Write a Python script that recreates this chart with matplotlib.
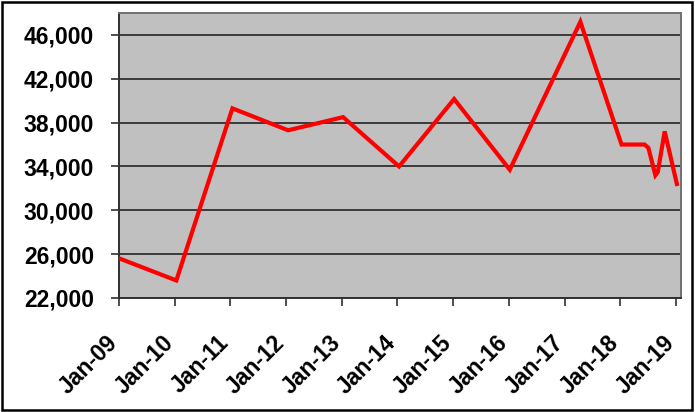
import matplotlib
matplotlib.use("Agg")
import matplotlib.pyplot as plt
import matplotlib.transforms as mtransforms
import numpy as np
import pandas as pd
from matplotlib.patches import Rectangle

dates = ["2009-01-05", "2010-01-12", "2011-01-15", "2012-01-15", "2013-01-10",
         "2014-01-12", "2015-01-08", "2016-01-08", "2017-04-15", "2018-01-10",
         "2018-06-10", "2018-07-05", "2018-08-20", "2018-09-05", "2018-10-20",
         "2019-01-08"]
values = [25600, 23600, 39300, 37300, 38500,
          34000, 40150, 33700, 47200, 36000,
          36000, 35700, 33200, 33500, 37200,
          32400]
yticks = [22000, 26000, 30000, 34000, 38000, 42000, 46000]
xtick_years = list(range(2009, 2020))

x = pd.to_datetime(dates)

fig = plt.figure(figsize=(6.95, 4.12), dpi=100)
ax = fig.add_axes([119/695, 1-298/412, (681-119)/695, (298-13)/412])
ax.set_facecolor("#C0C0C0")

ax.plot(x, values, color="#FF0000", lw=3.0, solid_joinstyle="miter", zorder=3)

ax.set_ylim(22000, 48000)
ax.set_yticks(yticks)
ax.set_yticklabels([f"{v:,}" for v in yticks])
ax.yaxis.grid(True, color="#3a3a3a", lw=1.4)
ax.set_axisbelow(True)

ax.set_xlim(pd.Timestamp("2009-01-01"), pd.Timestamp("2019-02-04"))
xt = [pd.Timestamp(f"{y}-01-01") for y in xtick_years]
ax.set_xticks(xt)
ax.set_xticklabels([f"Jan-{str(y)[2:]}" for y in xtick_years])

ax.tick_params(axis="both", direction="out", length=6, width=1.3, color="#404040")
ax.tick_params(axis="x", pad=8)
ax.tick_params(axis="y", pad=12)

offset = mtransforms.ScaledTranslation(-13/100, -14/100, fig.dpi_scale_trans)
for lab in ax.get_xticklabels():
    lab.set_rotation(45)
    lab.set_ha("right")
    lab.set_va("top")
    lab.set_rotation_mode("anchor")
    lab.set_transform(lab.get_transform() + offset)

for lab in ax.get_xticklabels() + ax.get_yticklabels():
    lab.set_fontfamily("Liberation Sans")
    lab.set_fontweight("bold")
    lab.set_fontsize(16.5)

for s in ["left", "bottom"]:
    ax.spines[s].set_color("#303030")
    ax.spines[s].set_linewidth(1.4)
for s in ["top", "right"]:
    ax.spines[s].set_color("#707070")
    ax.spines[s].set_linewidth(1.4)

fig.patches.append(Rectangle((1.5/695, 1-410/412), 690/695, 408/412,
                             transform=fig.transFigure, fill=False,
                             edgecolor="black", lw=1.8))

fig.savefig("out.png", dpi=100)
